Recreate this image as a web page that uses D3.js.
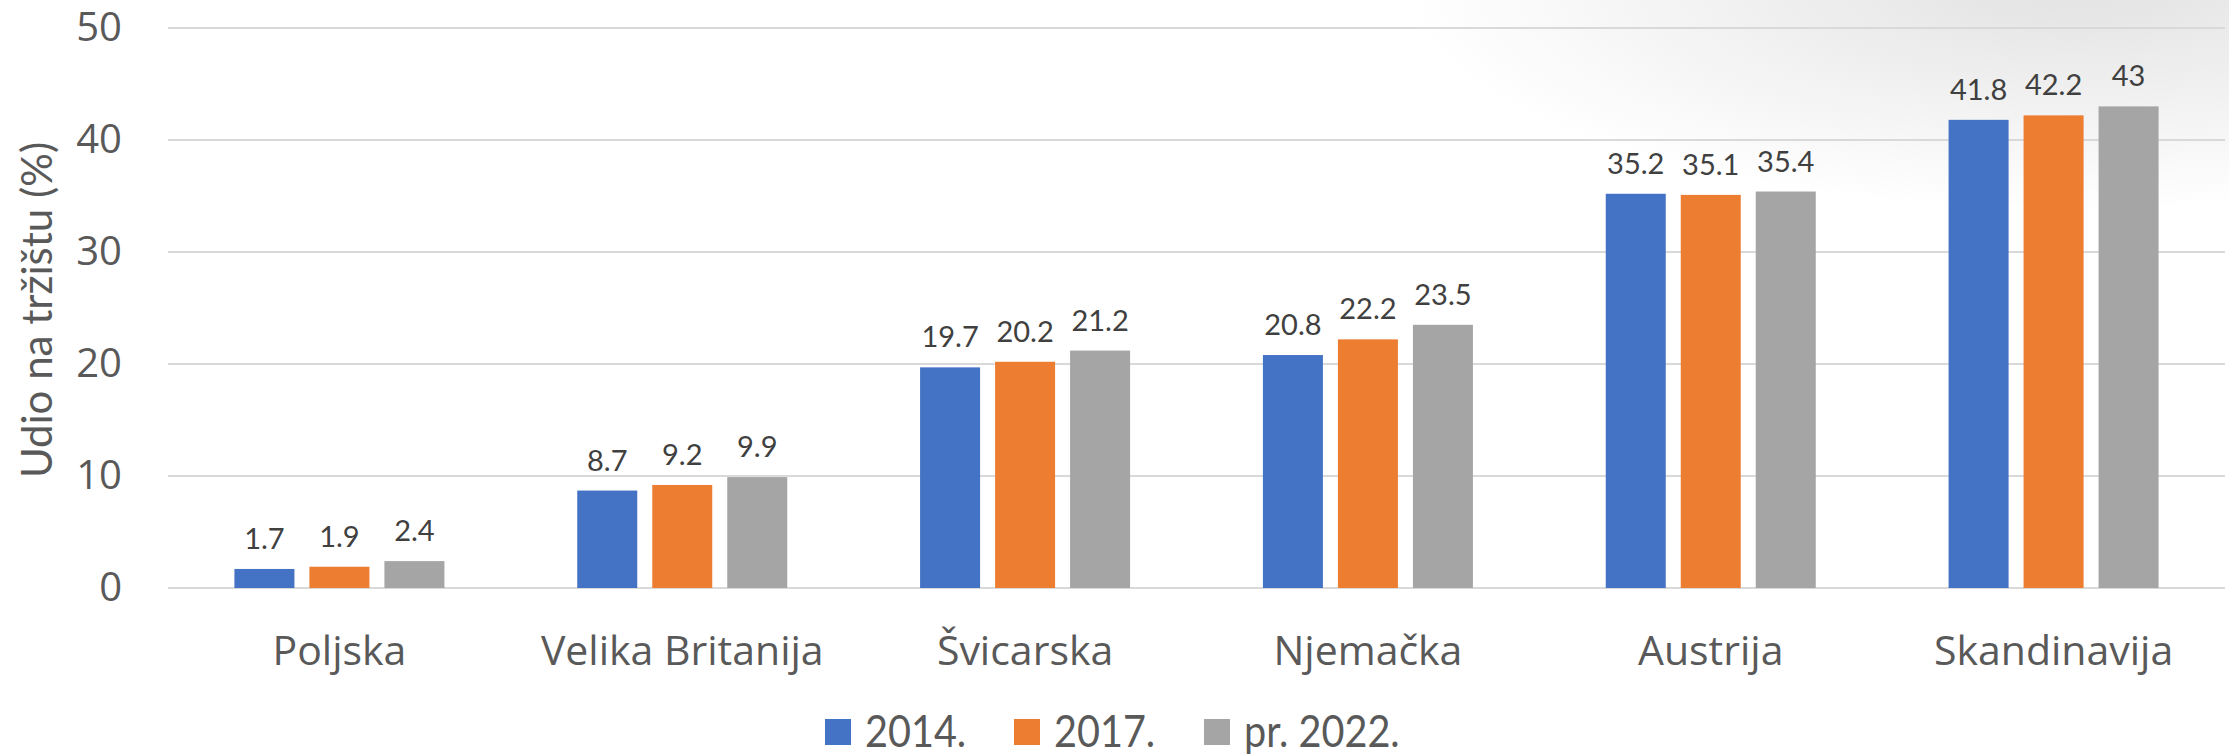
<!DOCTYPE html>
<html>
<head>
<meta charset="utf-8">
<script src="https://cdn.jsdelivr.net/npm/d3@7"></script>
<style>
  html, body { margin: 0; padding: 0; background: #fff; }
  svg { display: block; }
</style>
</head>
<body>
<div id="chart"></div>
<script>
// Chart data
const categories = ["Poljska", "Velika Britanija", "Švicarska", "Njemačka", "Austrija", "Skandinavija"];
const seriesNames = ["2014.", "2017.", "pr. 2022."];
const values2014 = [1.7, 8.7, 19.7, 20.8, 35.2, 41.8];
const values2017 = [1.9, 9.2, 20.2, 22.2, 35.1, 42.2];
const values2022 = [2.4, 9.9, 21.2, 23.5, 35.4, 43];
const yTicks = [0, 10, 20, 30, 40, 50];
const colors = ["#4472C4", "#ED7D31", "#A5A5A5"];

const W = 2229, H = 754;
const margin = { top: 28, right: 4, bottom: 166, left: 168 };
const allSeries = [values2014, values2017, values2022];

const svg = d3.select("#chart").append("svg")
    .attr("width", W)
    .attr("height", H);

// faint grey shading at the top right, like the slide behind the chart
const defs = svg.append("defs");
const grad = defs.append("radialGradient")
    .attr("id", "bgShade")
    .attr("cx", 0.93).attr("cy", -0.02).attr("r", 0.3);
grad.append("stop").attr("offset", "0%").attr("stop-color", "#e2e2e2");
grad.append("stop").attr("offset", "100%").attr("stop-color", "#ffffff");
svg.append("rect").attr("width", W).attr("height", H).attr("fill", "url(#bgShade)");

const x0 = d3.scaleBand()
    .domain(categories)
    .range([margin.left, W - margin.right])
    .paddingInner(0)
    .paddingOuter(0);

const groupWidth = 210;
const x1 = d3.scaleBand()
    .domain(d3.range(seriesNames.length))
    .range([(x0.bandwidth() - groupWidth) / 2, (x0.bandwidth() + groupWidth) / 2])
    .paddingInner(0.2)
    .paddingOuter(0);

const y = d3.scaleLinear()
    .domain([0, 50])
    .range([H - margin.bottom, margin.top]);

// Gridlines
svg.append("g")
    .selectAll("line")
    .data(yTicks)
    .enter().append("line")
    .attr("x1", margin.left)
    .attr("x2", W - margin.right)
    .attr("y1", d => y(d))
    .attr("y2", d => y(d))
    .attr("stroke", "#d9d9d9")
    .attr("stroke-width", 2);

// Y axis labels
const yAxis = d3.axisLeft(y).tickValues(yTicks).tickSize(0).tickPadding(46);
svg.append("g")
    .attr("transform", `translate(${margin.left},0)`)
    .call(yAxis)
    .call(g => g.select(".domain").remove())
    .selectAll("text")
    .attr("font-family", "'Open Sans', sans-serif")
    .attr("font-size", 40)
    .attr("fill", "#595959");

// X axis labels
const xAxis = d3.axisBottom(x0).tickSize(0).tickPadding(48);
svg.append("g")
    .attr("transform", `translate(0,${y(0)})`)
    .call(xAxis)
    .call(g => g.select(".domain").remove())
    .selectAll("text")
    .attr("font-family", "'Open Sans', sans-serif")
    .attr("font-size", 41)
    .attr("fill", "#595959");

// Bars
const groups = svg.append("g")
    .selectAll("g")
    .data(categories)
    .enter().append("g")
    .attr("transform", d => `translate(${x0(d)},0)`);

const cells = groups.selectAll("g")
    .data((c, i) => allSeries.map((s, j) => ({ series: j, value: s[i] })))
    .enter().append("g");

cells.append("rect")
    .attr("x", d => x1(d.series))
    .attr("y", d => y(d.value))
    .attr("width", x1.bandwidth())
    .attr("height", d => y(0) - y(d.value))
    .attr("fill", d => colors[d.series]);

// Data labels
cells.append("text")
    .attr("x", d => x1(d.series) + x1.bandwidth() / 2)
    .attr("y", d => y(d.value) - 20)
    .attr("text-anchor", "middle")
    .attr("font-family", "Lato, sans-serif")
    .attr("font-size", 29)
    .attr("fill", "#404040")
    .text(d => d.value);

// Y axis title
svg.append("text")
    .attr("transform", `translate(52,${(y(0) + y(50)) / 2 + 2}) rotate(-90)`)
    .attr("text-anchor", "middle")
    .attr("font-family", "Lato, sans-serif")
    .attr("font-size", 42)
    .attr("fill", "#595959")
    .text("Udio na tržištu (%)");

// Legend
const legendItems = [
    { x: 825, label: seriesNames[0] },
    { x: 1014, label: seriesNames[1] },
    { x: 1204, label: seriesNames[2] }
];
const legend = svg.append("g")
    .selectAll("g")
    .data(legendItems)
    .enter().append("g")
    .attr("transform", d => `translate(${d.x},719)`);

legend.append("rect")
    .attr("width", 26)
    .attr("height", 26)
    .attr("fill", (d, i) => colors[i]);

legend.append("text")
    .attr("transform", "translate(40,28) scale(0.9,1)")
    .attr("font-family", "Lato, sans-serif")
    .attr("font-size", 44)
    .attr("fill", "#595959")
    .text(d => d.label);
</script>
</body>
</html>
